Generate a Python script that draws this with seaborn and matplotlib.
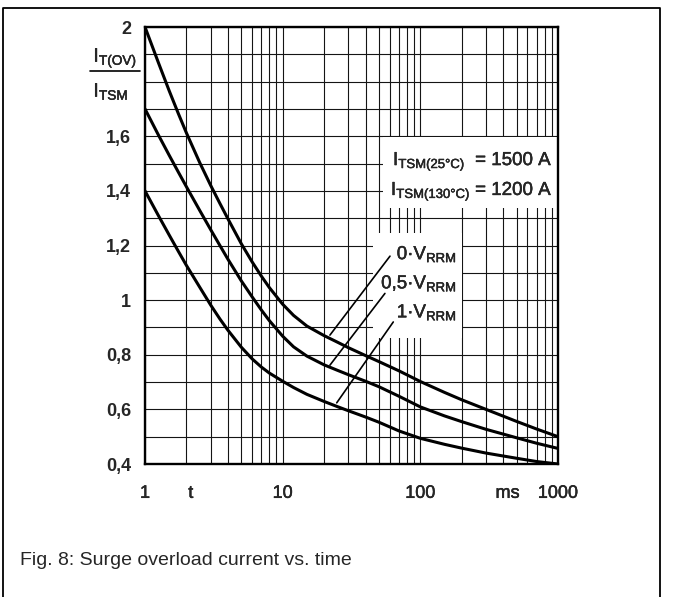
import numpy as np
import pandas as pd
import matplotlib
matplotlib.use("Agg")
import matplotlib.pyplot as plt
import matplotlib.patheffects as pe
import seaborn as sns
from matplotlib.ticker import FixedLocator, LogLocator, NullFormatter
from matplotlib.patches import Rectangle
from matplotlib.lines import Line2D

# ---------------- data ----------------
t_ms = [1, 1.25, 1.5, 1.75, 2, 2.5, 3, 3.5, 4, 5, 6, 7, 8, 10, 12, 15, 20, 25, 30,
        40, 50, 70, 100, 150, 200, 300, 500, 700, 1000]
ratio_0v = [2.0, 1.870, 1.766, 1.682, 1.612, 1.503, 1.420, 1.354, 1.298, 1.207, 1.140,
            1.088, 1.046, 0.985, 0.944, 0.905, 0.870, 0.846, 0.826, 0.797, 0.775,
            0.741, 0.702, 0.662, 0.635, 0.600, 0.556, 0.528, 0.500]
ratio_05v = [1.70, 1.605, 1.530, 1.468, 1.415, 1.328, 1.258, 1.200, 1.150, 1.071, 1.012,
             0.964, 0.925, 0.868, 0.829, 0.795, 0.763, 0.743, 0.727, 0.703, 0.683,
             0.648, 0.609, 0.576, 0.555, 0.527, 0.496, 0.476, 0.457]
ratio_1v = [1.40, 1.310, 1.238, 1.178, 1.127, 1.047, 0.982, 0.931, 0.890, 0.828, 0.785,
            0.755, 0.733, 0.703, 0.680, 0.655, 0.629, 0.610, 0.595, 0.572, 0.553,
            0.521, 0.494, 0.472, 0.458, 0.440, 0.421, 0.409, 0.400]
curve_names = ["0·V_RRM", "0,5·V_RRM", "1·V_RRM"]
curve_labels = ["0·V$_{\\mathrm{RRM}}$", "0,5·V$_{\\mathrm{RRM}}$", "1·V$_{\\mathrm{RRM}}$"]
label_x = 184.5
label_y = [1.150, 1.043, 0.937]

# leader lines (label -> curve)
leader_x = [(22.05, 60.2), (22.05, 55.3), (24.7, 63.6)]
leader_y = [(0.872, 1.161), (0.762, 1.0245), (0.624, 0.92)]

x_major = [1, 10, 100, 1000]
x_major_labels = ["1", "10", "100", "1000"]
x_extra = [2.15, 430]
x_extra_labels = ["t", "ms"]
y_major = [0.4, 0.6, 0.8, 1.0, 1.2, 1.4, 1.6, 1.8, 2.0]
y_major_labels = ["0,4", "0,6", "0,8", "1", "1,2", "1,4", "1,6", "", "2"]
y_minor = [0.5, 0.7, 0.9, 1.1, 1.3, 1.5, 1.7, 1.9]

itsm_lines = ["I$_{\\mathrm{TSM(25°C)}}$  = 1500 A", "I$_{\\mathrm{TSM(130°C)}}$ = 1200 A"]
itsm_x = 914
itsm_y = [1.4945, 1.385]

caption = "Fig. 8: Surge overload current vs. time"

# white areas behind text (grid interrupted there)
mask_boxes = [  # (x0, x1, y0, y1) in data units
    (53.5, 1000, 1.337, 1.597),
    (45.3, 200, 0.861, 1.245),
]

df = pd.DataFrame({
    "t": t_ms * 3,
    "ratio": ratio_0v + ratio_05v + ratio_1v,
    "curve": [curve_names[0]] * len(t_ms) + [curve_names[1]] * len(t_ms) + [curve_names[2]] * len(t_ms),
})

# ---------------- styling ----------------
sns.set_theme(style="white")
plt.rcParams["font.family"] = ["Liberation Sans", "DejaVu Sans"]
plt.rcParams["mathtext.fontset"] = "custom"
plt.rcParams["mathtext.rm"] = "Liberation Sans"
plt.rcParams["mathtext.it"] = "Liberation Sans:italic"
plt.rcParams["mathtext.bf"] = "Liberation Sans:bold"
plt.rcParams["axes.axisbelow"] = True

heavy = [pe.withStroke(linewidth=0.3, foreground="black")]

W, H = 673, 597
fig = plt.figure(figsize=(W / 100, H / 100), dpi=100)
fig.patch.set_facecolor("white")
ax = fig.add_axes([145 / W, 1 - 464 / H, 413 / W, 437 / H])
ax.set_xscale("log")

sns.lineplot(data=df, x="t", y="ratio", hue="curve", palette=["black"] * 3,
             legend=False, linewidth=2.2, estimator=None, sort=False, ax=ax, zorder=3)
for ln in ax.get_lines():
    ln.set_solid_joinstyle("round")

ax.set_xlim(1, 1000)
ax.set_ylim(0.4, 2.0)
ax.set_xlabel("")
ax.set_ylabel("")

ax.xaxis.set_major_locator(FixedLocator(x_major))
ax.set_xticklabels(x_major_labels)
ax.xaxis.set_minor_locator(LogLocator(base=10, subs=np.arange(2, 10)))
ax.xaxis.set_minor_formatter(NullFormatter())
ax.yaxis.set_major_locator(FixedLocator(y_major))
ax.set_yticklabels(y_major_labels)
ax.yaxis.set_minor_locator(FixedLocator(y_minor))

ax.grid(True, which="both", color="#151515", linewidth=0.8)
ax.tick_params(which="both", length=0)
ax.tick_params(axis="x", pad=15, labelsize=13)
ax.tick_params(axis="y", pad=10, labelsize=13)
for lab in ax.get_yticklabels():
    lab.set_fontweight("bold")
for lab in ax.get_xticklabels():
    lab.set_path_effects(heavy)
for s in ax.spines.values():
    s.set_visible(True)
    s.set_linewidth(1.7)
    s.set_color("black")
    s.set_zorder(4)

for (x0, x1, y0, y1) in mask_boxes:
    ax.add_patch(Rectangle((x0, y0), x1 - x0, y1 - y0, facecolor="white",
                           edgecolor="none", zorder=1))

for lx, ly in zip(leader_x, leader_y):
    ax.plot(lx, ly, color="black", linewidth=1.2, zorder=3)

for lbl, yy in zip(curve_labels, label_y):
    ax.text(label_x, yy, lbl, ha="right", va="baseline", fontsize=13.5, zorder=5,
            path_effects=heavy)

for lbl, yy in zip(itsm_lines, itsm_y):
    ax.text(itsm_x, yy, lbl, ha="right", va="baseline", fontsize=13.5, zorder=5,
            path_effects=heavy)

for lbl, xv in zip(x_extra_labels, x_extra):
    ax.annotate(lbl, xy=(xv, 0), xycoords=("data", "axes fraction"),
                xytext=(0, -15), textcoords="offset points",
                ha="center", va="top", fontsize=13, path_effects=heavy)

# y-axis quantity as a fraction I_T(OV) / I_TSM
ytr = ax.get_yaxis_transform()
ax.text(-0.125, 1.873, "I$_{\\mathrm{T(OV)}}$", transform=ytr, ha="left", va="baseline",
        fontsize=14, clip_on=False, path_effects=heavy)
ax.text(-0.125, 1.745, "I$_{\\mathrm{TSM}}$", transform=ytr, ha="left", va="baseline",
        fontsize=14, clip_on=False, path_effects=heavy)
ax.plot([-0.133, -0.012], [1.84, 1.84], transform=ytr, color="black",
        linewidth=1.2, clip_on=False)

fig.text(20 / W, 1 - 565 / H, caption, fontsize=14, va="baseline", ha="left")

fig.add_artist(Line2D([3 / W, 3 / W, 660 / W, 660 / W], [0, 1 - 8 / H, 1 - 8 / H, 0],
                      transform=fig.transFigure, color="black", linewidth=1.3))

fig.savefig("out.png", dpi=100, facecolor="white")
